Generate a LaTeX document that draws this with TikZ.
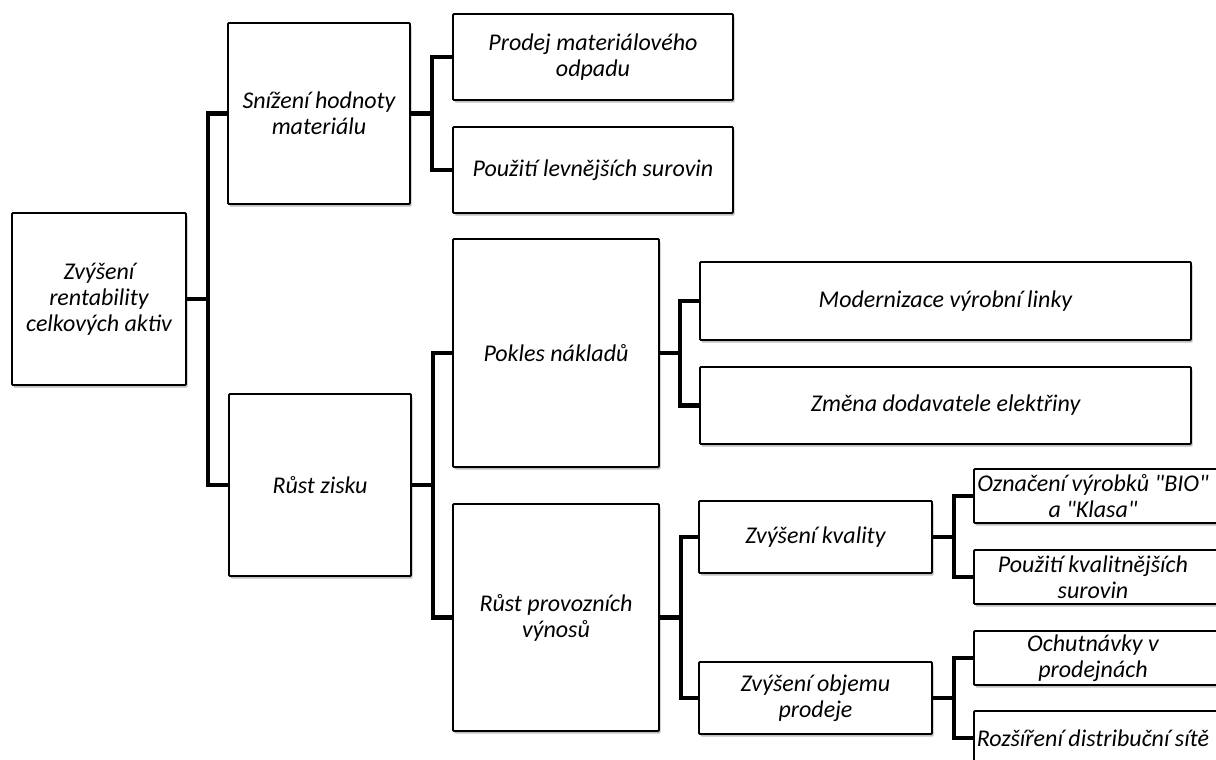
\documentclass[tikz,border=0pt]{standalone}
\usepackage{fontspec}
\setmainfont{Carlito}[Ligatures=TeXOff]
\usetikzlibrary{shadows}

\tikzset{
  box/.style={draw=black, line width=1.8pt, fill=white, rounded corners=1pt,
    drop shadow={shadow xshift=1.5pt, shadow yshift=-2.5pt, opacity=0.25, fill=black},
    inner sep=0pt, align=center, font=\itshape\fontsize{24}{26}\selectfont},
  txt/.style={inner sep=0pt, align=center, font=\itshape\fontsize{24}{26}\selectfont},
  conn/.style={draw=black, line width=4.6pt, line join=miter}
}

\begin{document}
\begin{tikzpicture}[x=1pt, y=-1pt]
\clip (0,0) rectangle (1216,760);
\fill[white] (0,0) rectangle (1216,760);

% level 0
\node[box, minimum width=174pt, minimum height=172pt] (root) at (99,299)
  {Zvýšení\\rentability\\celkových aktiv};

% level 1
\node[box, minimum width=182pt, minimum height=181pt] (snz) at (319,113.5)
  {Snížení hodnoty\\materiálu};
\node[box, minimum width=182pt, minimum height=182pt] (rz) at (320,485)
  {Růst zisku};

% level 2
\node[box, minimum width=280pt, minimum height=86pt] (prodej) at (593,57)
  {Prodej materiálového\\odpadu};
\node[box, minimum width=280pt, minimum height=86pt] (levn) at (593,170)
  {Použití levnějších surovin};
\node[box, minimum width=206pt, minimum height=228pt] (pokles) at (556,353)
  {Pokles nákladů};
\node[box, minimum width=206pt, minimum height=227pt] (rpv) at (556,617.5)
  {Růst provozních\\výnosů};

% level 3
\node[box, minimum width=491pt, minimum height=78pt] (modern) at (945.5,301)
  {Modernizace výrobní linky};
\node[box, minimum width=491pt, minimum height=77pt] (zmena) at (945.5,405.5)
  {Změna dodavatele elektřiny};
\node[box, minimum width=233pt, minimum height=72pt] (kval) at (815.5,537)
  {Zvýšení kvality};
\node[box, minimum width=233pt, minimum height=72pt] (objem) at (815.5,698)
  {Zvýšení objemu\\prodeje};

% level 4 (boxes run past the right edge)
\node[box, minimum width=250pt, minimum height=54pt] (bio) at (1099,496) {};
\node[txt] (bio-t) at (1093,496) {Označení výrobků "BIO"\\a "Klasa"};
\node[box, minimum width=250pt, minimum height=54pt] (kvsur) at (1099,577) {};
\node[txt] (kvsur-t) at (1093,577) {Použití kvalitnějších\\surovin};
\node[box, minimum width=250pt, minimum height=54pt] (ochut) at (1099,658) {};
\node[txt] (ochut-t) at (1093,658) {Ochutnávky v\\prodejnách};
\node[box, minimum width=250pt, minimum height=54pt] (rozs) at (1099,738) {};
\node[txt] (rozs-t) at (1093,738) {Rozšíření distribuční sítě};

% connectors
\draw[conn] (root.east) -- ++(21,0) |- (snz.west);
\draw[conn] (root.east) -- ++(21,0) |- (rz.west);

\draw[conn] (snz.east) -- ++(21,0) |- (prodej.west);
\draw[conn] (snz.east) -- ++(21,0) |- (levn.west);

\draw[conn] (rz.east) -- ++(21,0) |- (pokles.west);
\draw[conn] (rz.east) -- ++(21,0) |- (rpv.west);

\draw[conn] (pokles.east) -- ++(20,0) |- (modern.west);
\draw[conn] (pokles.east) -- ++(20,0) |- (zmena.west);

\draw[conn] (rpv.east) -- ++(21,0) |- (kval.west);
\draw[conn] (rpv.east) -- ++(21,0) |- (objem.west);

\draw[conn] (kval.east) -- ++(21,0) |- (bio.west);
\draw[conn] (kval.east) -- ++(21,0) |- (kvsur.west);

\draw[conn] (objem.east) -- ++(21,0) |- (ochut.west);
\draw[conn] (objem.east) -- ++(21,0) |- (rozs.west);
\end{tikzpicture}
\end{document}
